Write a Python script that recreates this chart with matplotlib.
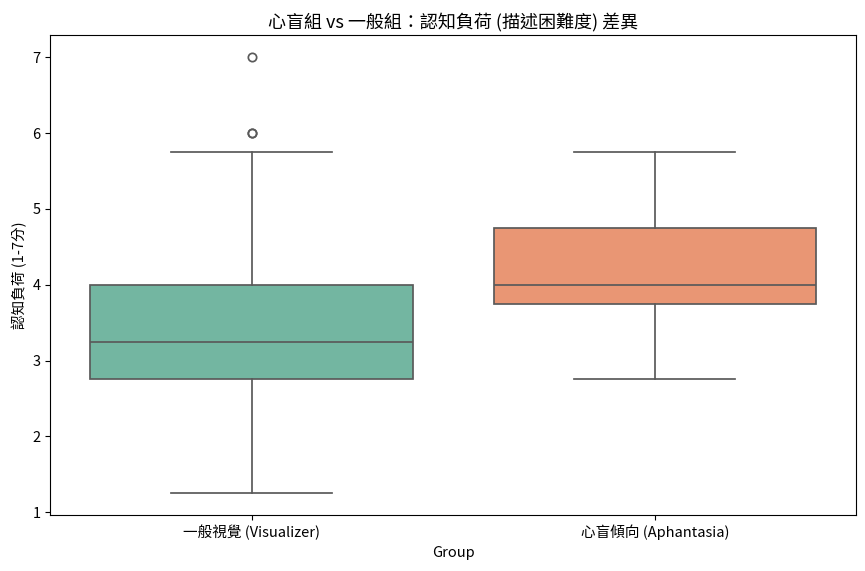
import matplotlib
matplotlib.use("Agg")
import matplotlib.pyplot as plt

plt.rcParams["font.family"] = ["Noto Sans CJK TC", "DejaVu Sans"]
plt.rcParams["font.size"] = 10.5

# box statistics
groups = ["一般視覺 (Visualizer)", "心盲傾向 (Aphantasia)"]
whisker_low = [1.25, 2.75]
q1 = [2.75, 3.75]
median = [3.25, 4.0]
q3 = [4.0, 4.75]
whisker_high = [5.75, 5.75]
outliers = [[6.0, 6.0, 7.0], []]

colors = ["#73b6a1", "#e99674"]
line_color = "#5a5a5a"

stats = []
for i, name in enumerate(groups):
    stats.append({
        "label": name,
        "whislo": whisker_low[i],
        "q1": q1[i],
        "med": median[i],
        "q3": q3[i],
        "whishi": whisker_high[i],
        "fliers": outliers[i],
    })

fig, ax = plt.subplots(figsize=(8.65, 5.71), dpi=100)
fig.subplots_adjust(left=0.058, right=0.99, top=0.938, bottom=0.098)

lw = 1.25
bp = ax.bxp(
    stats,
    positions=range(len(groups)),
    widths=0.8,
    patch_artist=True,
    showfliers=True,
    boxprops=dict(edgecolor=line_color, linewidth=lw),
    whiskerprops=dict(color=line_color, linewidth=lw),
    capprops=dict(color=line_color, linewidth=lw),
    medianprops=dict(color=line_color, linewidth=lw),
    flierprops=dict(marker="o", markerfacecolor="none", markeredgecolor=line_color,
                    markersize=6, markeredgewidth=lw),
    capwidths=0.4,
)
for patch, c in zip(bp["boxes"], colors):
    patch.set_facecolor(c)

ax.set_xlim(-0.5, len(groups) - 0.5)
ax.set_ylim(0.9625, 7.2875)
ax.set_xticks(range(len(groups)))
ax.set_xticklabels(groups)
ax.set_xlabel("Group")
ax.set_ylabel("認知負荷 (1-7分)")
ax.set_title("心盲組 vs 一般組：認知負荷 (描述困難度) 差異", fontsize=13)

plt.savefig("out.png", dpi=100)
plt.close()
